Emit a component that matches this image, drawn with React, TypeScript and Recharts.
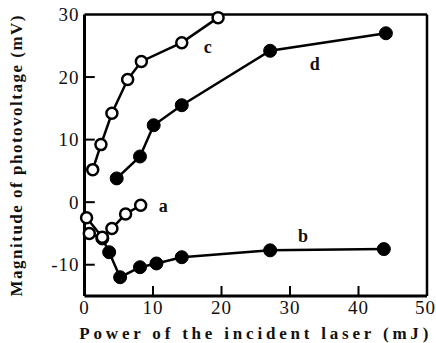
import { LineChart, Line, XAxis, YAxis, ReferenceLine, ReferenceDot, Label } from 'recharts';

// photovoltage vs laser power, four samples
const seriesA = [
  { x: 0.3, y: -2.5 },
  { x: 2.6, y: -5.6 },
  { x: 4.0, y: -4.2 },
  { x: 6.0, y: -1.9 },
  { x: 8.2, y: -0.5 },
];
const seriesB = [
  { x: 0.7, y: -5.0 },
  { x: 2.6, y: -5.8 },
  { x: 3.6, y: -8.0 },
  { x: 5.2, y: -12.0 },
  { x: 8.1, y: -10.4 },
  { x: 10.5, y: -9.8 },
  { x: 14.2, y: -8.8 },
  { x: 27.1, y: -7.7 },
  { x: 43.7, y: -7.5 },
];
const seriesC = [
  { x: 1.2, y: 5.2 },
  { x: 2.4, y: 9.2 },
  { x: 4.0, y: 14.2 },
  { x: 6.3, y: 19.6 },
  { x: 8.3, y: 22.5 },
  { x: 14.2, y: 25.5 },
  { x: 19.5, y: 29.5 },
];
const seriesD = [
  { x: 4.7, y: 3.8 },
  { x: 8.1, y: 7.3 },
  { x: 10.1, y: 12.3 },
  { x: 14.2, y: 15.5 },
  { x: 27.1, y: 24.2 },
  { x: 44.0, y: 27.0 },
];
const curveLabels = [
  { name: 'a', x: 11.5, y: -0.5 },
  { name: 'b', x: 31.9, y: -5.4 },
  { name: 'c', x: 18.0, y: 24.8 },
  { name: 'd', x: 33.6, y: 22.1 },
];
const xTicks = [0, 10, 20, 30, 40, 50];
const yTicks = [-10, 0, 10, 20, 30];

const font = '"Liberation Serif", "DejaVu Serif", serif';

const OpenDot = (props: any) => {
  const { cx, cy } = props;
  if (cx == null || cy == null) return null;
  return <circle cx={cx} cy={cy} r={5.5} fill="#fff" stroke="#000" strokeWidth={2.5} />;
};

const FilledDot = (props: any) => {
  const { cx, cy } = props;
  if (cx == null || cy == null) return null;
  return <circle cx={cx} cy={cy} r={6.5} fill="#000" stroke="#000" strokeWidth={1} />;
};

// first point of b looks hollow in the original
const BDot = (props: any) => (props.index === 0 ? <OpenDot {...props} /> : <FilledDot {...props} />);

export default function App() {
  return (
    <div style={{ position: 'absolute', left: 0, top: 0, background: '#fff' }}>
      <LineChart width={436} height={343} margin={{ top: 14.5, right: 9, bottom: 0, left: 0 }}>
        <XAxis
          type="number"
          dataKey="x"
          domain={[0, 50]}
          ticks={xTicks}
          height={47}
          tickSize={0}
          tickMargin={5}
          axisLine={{ stroke: '#000', strokeWidth: 3 }}
          tick={{ fill: '#111', fontSize: 19, fontFamily: font, letterSpacing: 1 }}
        >
          <Label
            value="Power of the incident laser (mJ)"
            position="insideBottom"
            offset={4}
            style={{ fill: '#111', fontSize: 17, fontFamily: font, fontWeight: 'bold', letterSpacing: 3.8 }}
          />
        </XAxis>
        <YAxis
          type="number"
          dataKey="y"
          domain={[-15, 30]}
          ticks={yTicks}
          width={84.5}
          tickSize={0}
          tickMargin={5}
          axisLine={{ stroke: '#000', strokeWidth: 3 }}
          tick={{ fill: '#111', fontSize: 19, fontFamily: font, letterSpacing: 1 }}
        >
          <Label
            value="Magnitude of photovoltage (mV)"
            angle={-90}
            position="insideLeft"
            offset={16}
            style={{ fill: '#111', fontSize: 17, fontFamily: font, fontWeight: 'bold', textAnchor: 'middle', letterSpacing: 1.5 }}
          />
        </YAxis>

        {/* frame */}
        <ReferenceLine y={30} stroke="#000" strokeWidth={2.5} />
        <ReferenceLine x={50} stroke="#000" strokeWidth={2.5} />

        {/* inward ticks */}
        {yTicks.slice(0, 4).map((t) => (
          <ReferenceLine key={'yt' + t} segment={[{ x: 0, y: t }, { x: 1.5, y: t }]} stroke="#000" strokeWidth={2} />
        ))}
        {xTicks.slice(1, 5).map((t) => (
          <ReferenceLine key={'xt' + t} segment={[{ x: t, y: -15 }, { x: t, y: -13.4 }]} stroke="#000" strokeWidth={2} />
        ))}

        <Line data={seriesC} dataKey="y" stroke="#000" strokeWidth={2.5} dot={<OpenDot />} type="linear" isAnimationActive={false} />
        <Line data={seriesD} dataKey="y" stroke="#000" strokeWidth={2.5} dot={<FilledDot />} type="linear" isAnimationActive={false} />
        <Line data={seriesB} dataKey="y" stroke="#000" strokeWidth={2.5} dot={<BDot />} type="linear" isAnimationActive={false} />
        <Line data={seriesA} dataKey="y" stroke="#000" strokeWidth={2.5} dot={<OpenDot />} type="linear" isAnimationActive={false} />

        {curveLabels.map((l) => (
          <ReferenceDot
            key={l.name}
            x={l.x}
            y={l.y}
            r={0}
            stroke="none"
            label={{ value: l.name, position: 'center', fill: '#111', fontSize: 18, fontFamily: font, fontWeight: 'bold' }}
          />
        ))}
      </LineChart>
    </div>
  );
}
